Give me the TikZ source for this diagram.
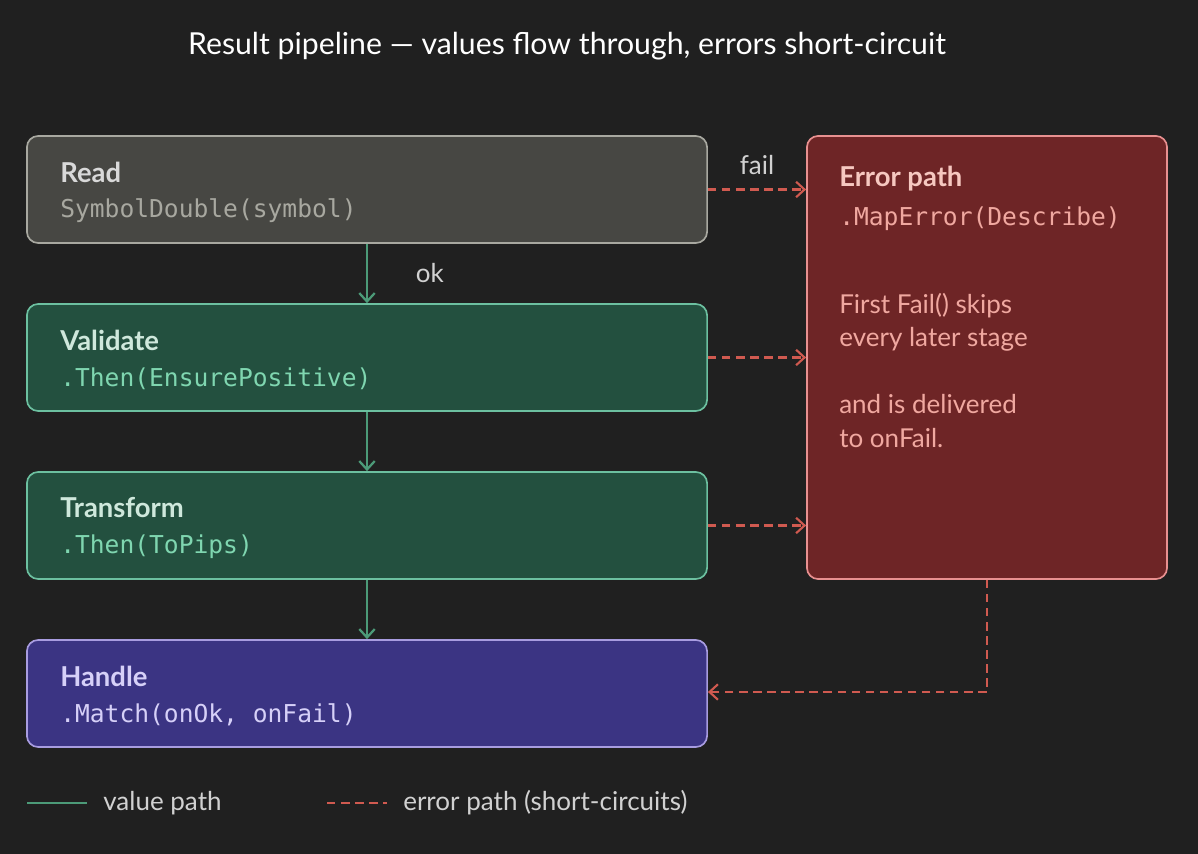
\documentclass[tikz,border=0pt]{standalone}
\usepackage{fontspec}
\setmainfont{Lato}
\setmonofont{DejaVu Sans Mono}
\usetikzlibrary{arrows.meta, positioning}
\definecolor{bg}{HTML}{202020}
\definecolor{readfill}{HTML}{474743}
\definecolor{readline}{HTML}{A8A8A0}
\definecolor{okfill}{HTML}{23503F}
\definecolor{okline}{HTML}{6CC0A0}
\definecolor{oktitle}{HTML}{CFE8DC}
\definecolor{okcode}{HTML}{7FD6B0}
\definecolor{hfill}{HTML}{3B3483}
\definecolor{hline}{HTML}{A89CE0}
\definecolor{htext}{HTML}{D6D0F8}
\definecolor{efill}{HTML}{6E2526}
\definecolor{eline}{HTML}{E89090}
\definecolor{etext}{HTML}{F6C8C0}
\definecolor{ecode}{HTML}{F0A8A0}
\definecolor{valarrow}{HTML}{4C9A78}
\definecolor{errarrow}{HTML}{D05A50}
\tikzset{
  stage/.style={draw, line width=1.2pt, rounded corners=8pt, minimum width=17cm, minimum height=2.675cm, inner sep=0pt},
  ttl/.style={anchor=west, inner sep=0pt, font=\bfseries\fontsize{19.5}{23}\selectfont},
  code/.style={anchor=west, inner sep=0pt, font=\ttfamily\fontsize{17.5}{21}\selectfont},
  lbl/.style={text=white!82!black, inner sep=0pt, font=\fontsize{18.5}{22}\selectfont},
  valarr/.style={valarrow, line width=1.6pt, -{Straight Barb[length=6pt,width=11pt]}},
  errarr/.style={errarrow, line width=1.5pt, dash pattern=on 6pt off 4pt, -{Straight Barb[length=6pt,width=11pt]}}
}
\begin{document}
\begin{tikzpicture}[x=0.025cm, y=-0.025cm]
% background
\fill[bg] (0,0) rectangle (1198,854);
\node[white, font=\fontsize{21.5}{25}\selectfont] at (567,46) {Result pipeline — values flow through, errors short-circuit};

% stages
\node[stage, fill=readfill, draw=readline] (read) at (367,189.5) {};
\node[ttl, text=white!85!black] at (60,172) {Read};
\node[code, text=readline] at (60,211) {SymbolDouble(symbol)};

\node[stage, fill=okfill, draw=okline] (validate) at (367,357.5) {};
\node[ttl, text=oktitle] at (60,340) {Validate};
\node[code, text=okcode] at (60,379) {.Then(EnsurePositive)};

\node[stage, fill=okfill, draw=okline] (transform) at (367,525.5) {};
\node[ttl, text=oktitle] at (60,508) {Transform};
\node[code, text=okcode] at (60,547) {.Then(ToPips)};

\node[stage, fill=hfill, draw=hline] (handle) at (367,693.5) {};
\node[ttl, text=htext] at (60,676) {Handle};
\node[code, text=htext] at (60,715) {.Match(onOk, onFail)};

% error box
\node[stage, fill=efill, draw=eline, minimum width=9cm, minimum height=11.075cm] (error) at (987,357.5) {};
\node[ttl, text=etext] at (839,179) {Error path};
\node[code, text=ecode] at (839,219) {.MapError(Describe)};
\node[anchor=north west, inner sep=0pt, align=left, text=ecode, font=\fontsize{18.5}{23.8}\selectfont] at (839,293) {First Fail() skips\\every later stage\\[23.8pt]and is delivered\\to onFail.};

% value path
\draw[valarr] (read) -- (validate) node[midway, right=34pt, lbl] {ok};
\draw[valarr] (validate) -- (transform);
\draw[valarr] (transform) -- (handle);

% error path
\coordinate (corner) at (987,692);
\draw[errarr] (read.east) -- (read.east -| error.west) node[midway, above=10pt, lbl] {fail};
\draw[errarr] (validate.east) -- (validate.east -| error.west);
\draw[errarr] (transform.east) -- (transform.east -| error.west);
\draw[errarr] (error.south) -- (corner) -- (corner -| handle.east);

% legend
\coordinate (lv1) at (27,803); \coordinate (lv2) at (87,803);
\coordinate (le1) at (327,803); \coordinate (le2) at (387,803);
\draw[valarrow, line width=1.6pt] (lv1) -- (lv2);
\draw[errarrow, line width=1.5pt, dash pattern=on 6pt off 4pt] (le1) -- (le2);
\node[anchor=west, lbl] at (103,803) {value path};
\node[anchor=west, lbl] at (403,803) {error path (short-circuits)};
\end{tikzpicture}
\end{document}
